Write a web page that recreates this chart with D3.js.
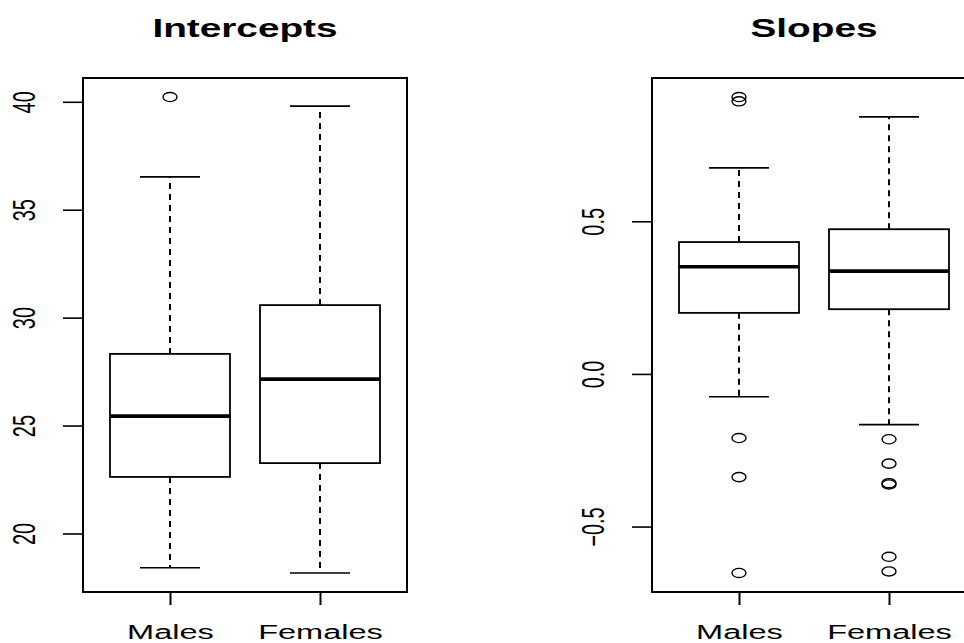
<!DOCTYPE html>
<html>
<head>
<meta charset="utf-8">
<script src="https://cdn.jsdelivr.net/npm/d3@7"></script>
<style>
  body { margin: 0; background: #fff; }
  svg { display: block; font-family: "Liberation Sans", Arial, sans-serif; }
</style>
</head>
<body>
<svg id="chart" width="964" height="643"></svg>
<script>
const groups = ["Males", "Females"];

// boxplot stats per group: lower whisker, Q1, median, Q3, upper whisker
const interceptStats = [
  [18.41, 22.62, 25.44, 28.32, 36.52],
  [18.17, 23.26, 27.15, 30.58, 39.80]
];
const interceptOutliers = [[40.22], []];

const slopeStats = [
  [-0.075, 0.200, 0.351, 0.432, 0.675],
  [-0.166, 0.212, 0.337, 0.474, 0.842]
];
const slopeOutliers = [
  [0.907, 0.893, -0.21, -0.338, -0.652],
  [-0.214, -0.294, -0.358, -0.362, -0.599, -0.647]
];

const interceptTicks = [20, 25, 30, 35, 40];
const slopeTicks = [-0.5, 0, 0.5];

// the picture is stretched sideways, so text and circles are too
const SX = 1.55;
const panelW = 324, panelH = 514, panelTop = 78;

const svg = d3.select("#chart");

function drawPanel(x0, title, stats, outliers, ticks, fmt) {
  const g = svg.append("g").attr("transform", `translate(${x0},${panelTop})`);

  const all = stats.flat().concat(outliers.flat());
  const lo = d3.min(all), hi = d3.max(all), pad = (hi - lo) * 0.04;
  const y = d3.scaleLinear().domain([lo - pad, hi + pad]).range([panelH, 0]);
  const x = d3.scaleLinear().domain([0.42, 2.58]).range([0, panelW]);
  const boxW = x(1.8) - x(1);

  // y axis
  const ya = g.append("g").call(d3.axisLeft(y).tickValues(ticks).tickSize(20).tickFormat(fmt));
  ya.select(".domain").remove();
  ya.selectAll("line").attr("stroke", "#000").attr("stroke-width", 1.6);
  ya.selectAll("text")
    .attr("x", 0).attr("dy", 0).attr("fill", "#000")
    .attr("font-size", 20)
    .attr("text-anchor", "middle")
    .attr("transform", `translate(-48,0) scale(${SX},1) rotate(-90)`);

  // x axis
  const xa = g.append("g").attr("transform", `translate(0,${panelH})`)
    .call(d3.axisBottom(x).tickValues([1, 2]).tickSize(13).tickFormat((d, i) => groups[i]));
  xa.select(".domain").remove();
  xa.selectAll("line").attr("stroke", "#000").attr("stroke-width", 2);
  xa.selectAll("text")
    .attr("x", 0).attr("y", 0).attr("dy", 0).attr("fill", "#000")
    .attr("font-size", 21)
    .attr("transform", `translate(0,47) scale(${SX},1)`);

  // boxes
  stats.forEach((s, i) => {
    const cx = x(i + 1);
    const b = g.append("g");
    b.append("line").attr("x1", cx).attr("x2", cx).attr("y1", y(s[3])).attr("y2", y(s[4]))
      .attr("stroke", "#000").attr("stroke-width", 2).attr("stroke-dasharray", "6,5");
    b.append("line").attr("x1", cx).attr("x2", cx).attr("y1", y(s[1])).attr("y2", y(s[0]))
      .attr("stroke", "#000").attr("stroke-width", 2).attr("stroke-dasharray", "6,5");
    [s[0], s[4]].forEach(v => {
      b.append("line").attr("x1", cx - boxW / 4).attr("x2", cx + boxW / 4)
        .attr("y1", y(v)).attr("y2", y(v)).attr("stroke", "#000").attr("stroke-width", 1.6);
    });
    b.append("rect").attr("x", cx - boxW / 2).attr("width", boxW)
      .attr("y", y(s[3])).attr("height", y(s[1]) - y(s[3]))
      .attr("fill", "none").attr("stroke", "#000").attr("stroke-width", 1.8);
    b.append("line").attr("x1", cx - boxW / 2).attr("x2", cx + boxW / 2)
      .attr("y1", y(s[2])).attr("y2", y(s[2])).attr("stroke", "#000").attr("stroke-width", 3.7);

    b.selectAll("ellipse").data(outliers[i]).enter().append("ellipse")
      .attr("cx", cx).attr("cy", d => y(d))
      .attr("rx", 7).attr("ry", 4.6)
      .attr("fill", "none").attr("stroke", "#000").attr("stroke-width", 1.4);
  });

  // frame
  g.append("rect").attr("width", panelW).attr("height", panelH)
    .attr("fill", "none").attr("stroke", "#000").attr("stroke-width", 2);

  // title
  svg.append("text")
    .attr("transform", `translate(${x0 + panelW / 2},37) scale(${SX},1)`)
    .attr("text-anchor", "middle").attr("font-size", 25).attr("font-weight", "bold")
    .text(title);
}

drawPanel(83, "Intercepts", interceptStats, interceptOutliers, interceptTicks, d3.format("d"));
drawPanel(652, "Slopes", slopeStats, slopeOutliers, slopeTicks, d3.format(".1f"));
</script>
</body>
</html>
